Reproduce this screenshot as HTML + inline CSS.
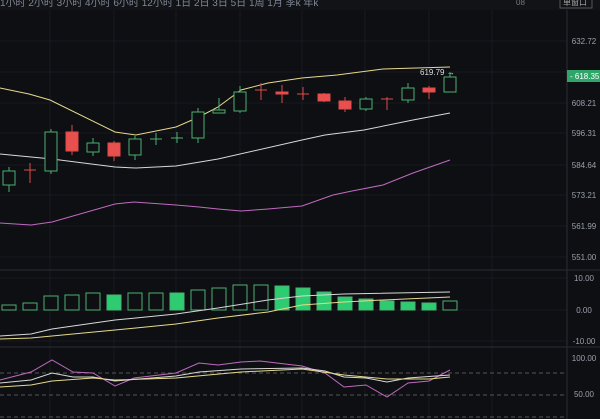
<!DOCTYPE html>
<html><head><meta charset="utf-8"><style>
html,body{margin:0;padding:0;background:#0d0e12;}
svg{display:block;font-family:"Liberation Sans","Noto Sans CJK SC",sans-serif;}
</style></head><body>
<svg width="600" height="419" viewBox="0 0 600 419" xmlns="http://www.w3.org/2000/svg">
<rect width="600" height="419" fill="#0e0f13"/>
<rect width="600" height="10" fill="#121317"/>
<text x="0" y="6" fill="#7f8796" font-size="10">1小时 2小时 3小时 4小时 6小时 12小时 1日 2日 3日 5日 1周 1月 季k 年k</text>
<text x="516" y="5" fill="#777" font-size="8">08</text>
<rect x="560" y="-4" width="32" height="12" fill="none" stroke="#666" stroke-width="0.8"/>
<text x="563" y="5" fill="#aaa" font-size="8">单窗口</text>
<g stroke="#1c1e24" stroke-width="0.8">
<line x1="50" y1="10" x2="50" y2="419"/><line x1="114" y1="10" x2="114" y2="419"/><line x1="176" y1="10" x2="176" y2="419"/><line x1="240" y1="10" x2="240" y2="419"/><line x1="302" y1="10" x2="302" y2="419"/><line x1="365" y1="10" x2="365" y2="419"/><line x1="429" y1="10" x2="429" y2="419"/><line x1="492" y1="10" x2="492" y2="419"/>
<line x1="0" y1="41" x2="567" y2="41"/><line x1="0" y1="72" x2="567" y2="72"/><line x1="0" y1="103" x2="567" y2="103"/><line x1="0" y1="133" x2="567" y2="133"/><line x1="0" y1="165" x2="567" y2="165"/><line x1="0" y1="195" x2="567" y2="195"/><line x1="0" y1="226" x2="567" y2="226"/><line x1="0" y1="257" x2="567" y2="257"/>
<line x1="0" y1="278" x2="567" y2="278"/><line x1="0" y1="310" x2="567" y2="310"/><line x1="0" y1="341" x2="567" y2="341"/>
</g>
<line x1="567" y1="10" x2="567" y2="419" stroke="#2a2c33" stroke-width="1"/>
<line x1="0" y1="270" x2="600" y2="270" stroke="#2a2c33"/>
<line x1="0" y1="347" x2="600" y2="347" stroke="#2a2c33"/>
<g fill="#9aa0aa" font-size="8" text-anchor="middle">
<text x="584" y="44">632.72</text><text x="584" y="106">608.21</text><text x="584" y="136">596.31</text><text x="584" y="168">584.64</text><text x="584" y="198">573.21</text><text x="584" y="229">561.99</text><text x="584" y="260">551.00</text>
<text x="584" y="281">10.00</text><text x="584" y="313">0.00</text><text x="584" y="344">-10.00</text><text x="584" y="361">100.00</text><text x="584" y="397">50.00</text>
</g>
<rect x="567" y="70" width="33" height="12" fill="#2fa56a"/>
<text x="570" y="79" fill="#fff" font-size="8">- 618.35</text>
<!-- bands -->
<polyline fill="none" stroke="#e6d98a" stroke-width="1" points="0,88 29,94 50,100 115,132 136,135 176,127 199,117 218,107 241,90 268,83 302,78 337,75 383,69 450,67"/>
<polyline fill="none" stroke="#d8d8d8" stroke-width="1" points="0,154 31,157 52,159 115,167 136,168 176,166 218,159 302,140 325,135 364,130 413,120 450,113"/>
<polyline fill="none" stroke="#c06ac0" stroke-width="1" points="0,223 31,225 52,222 115,204 134,202 176,205 199,207 218,209 241,211 268,209 302,206 333,195 352,191 383,185 413,173 450,160"/>
<!-- candles -->
<g stroke-width="1">
<g stroke="#4caf72" fill="#0e0f13">
<line x1="9" y1="167" x2="9" y2="192"/><rect x="3" y="171" width="12" height="14"/>
<line x1="51" y1="129" x2="51" y2="174"/><rect x="45" y="132" width="12" height="39"/>
<line x1="93" y1="138" x2="93" y2="156"/><rect x="87" y="143" width="12" height="9"/>
<line x1="135" y1="136" x2="135" y2="160"/><rect x="129" y="139" width="12" height="16"/>
<line x1="156" y1="133" x2="156" y2="145"/><line x1="150" y1="139" x2="162" y2="139"/>
<line x1="177" y1="132" x2="177" y2="143"/><line x1="171" y1="138" x2="183" y2="138"/>
<line x1="198" y1="108" x2="198" y2="143"/><rect x="192" y="112" width="12" height="26"/>
<line x1="219" y1="98" x2="219" y2="113"/><rect x="213" y="110" width="12" height="3"/>
<line x1="240" y1="86" x2="240" y2="113"/><rect x="234" y="92" width="12" height="19"/>
<line x1="366" y1="97" x2="366" y2="111"/><rect x="360" y="99" width="12" height="10"/>
<line x1="408" y1="83" x2="408" y2="103"/><rect x="402" y="88" width="12" height="12"/>
<line x1="450" y1="72" x2="450" y2="92"/><rect x="444" y="77" width="12" height="15"/>
</g>
<g stroke="#e04a4a" fill="#e8504f">
<line x1="30" y1="163" x2="30" y2="183"/><line x1="24" y1="170" x2="36" y2="170"/>
<line x1="72" y1="125" x2="72" y2="155"/><rect x="66" y="132" width="12" height="19"/>
<line x1="114" y1="141" x2="114" y2="161"/><rect x="108" y="143" width="12" height="13"/>
<line x1="261" y1="83" x2="261" y2="100"/><line x1="255" y1="90" x2="267" y2="90"/>
<line x1="282" y1="85" x2="282" y2="103"/><rect x="276" y="92" width="12" height="2"/>
<line x1="303" y1="87" x2="303" y2="100"/><line x1="297" y1="94" x2="309" y2="94"/>
<line x1="324" y1="93" x2="324" y2="102"/><rect x="318" y="94" width="12" height="7"/>
<line x1="345" y1="97" x2="345" y2="112"/><rect x="339" y="101" width="12" height="8"/>
<line x1="387" y1="97" x2="387" y2="110"/><line x1="381" y1="99" x2="393" y2="99"/>
<line x1="429" y1="86" x2="429" y2="99"/><rect x="423" y="88" width="12" height="4"/>
</g>
</g>
<text x="420" y="75" fill="#ddd" font-size="8">619.79 →</text>
<!-- MACD -->
<g stroke="#4caf72" fill="#0e0f13">
<rect x="2" y="305" width="14" height="5"/><rect x="23" y="303" width="14" height="7"/><rect x="44" y="296" width="14" height="14"/><rect x="65" y="295" width="14" height="15"/><rect x="86" y="293" width="14" height="17"/>
<rect x="107" y="295" width="14" height="15" fill="#2ecc71"/><rect x="128" y="293" width="14" height="17"/><rect x="149" y="293" width="14" height="17"/><rect x="170" y="293" width="14" height="17" fill="#2ecc71"/>
<rect x="191" y="290" width="14" height="20"/><rect x="212" y="288" width="14" height="22"/><rect x="233" y="285" width="14" height="25"/><rect x="254" y="285" width="14" height="25"/>
<g fill="#2ecc71"><rect x="275" y="286" width="14" height="24"/><rect x="296" y="288" width="14" height="22"/><rect x="317" y="292" width="14" height="18"/><rect x="338" y="297" width="14" height="13"/><rect x="359" y="299" width="14" height="11"/><rect x="380" y="301" width="14" height="9"/><rect x="401" y="302" width="14" height="8"/><rect x="422" y="303" width="14" height="7"/></g>
<rect x="443" y="301" width="14" height="9"/>
</g>
<polyline fill="none" stroke="#d8d8d8" points="0,336 31,334 52,329 115,320 176,314 218,308 268,300 302,296 344,294 450,292"/>
<polyline fill="none" stroke="#e6d98a" points="0,339 31,338 115,330 176,324 218,318 268,312 302,305 344,302 383,300 450,297"/>
<!-- KDJ -->
<g stroke="#555" stroke-dasharray="4,3"><line x1="0" y1="373" x2="567" y2="373"/><line x1="0" y1="395" x2="567" y2="395"/><line x1="0" y1="417" x2="567" y2="417"/></g>
<polyline fill="none" stroke="#c06ac0" points="0,380 31,372 52,360 73,372 93,373 115,386 134,378 176,373 199,363 218,365 241,362 260,361 302,366 325,373 344,387 366,385 387,397 408,383 429,381 450,370"/>
<polyline fill="none" stroke="#d8d8d8" points="0,383 31,380 52,373 73,377 93,377 115,381 176,376 199,372 241,369 302,368 325,371 344,377 366,378 387,382 408,378 450,375"/>
<polyline fill="none" stroke="#e6d98a" points="0,387 31,385 52,381 93,378 115,380 176,378 241,372 302,369 344,375 387,379 429,379 450,377"/>
</svg>
</body></html>
